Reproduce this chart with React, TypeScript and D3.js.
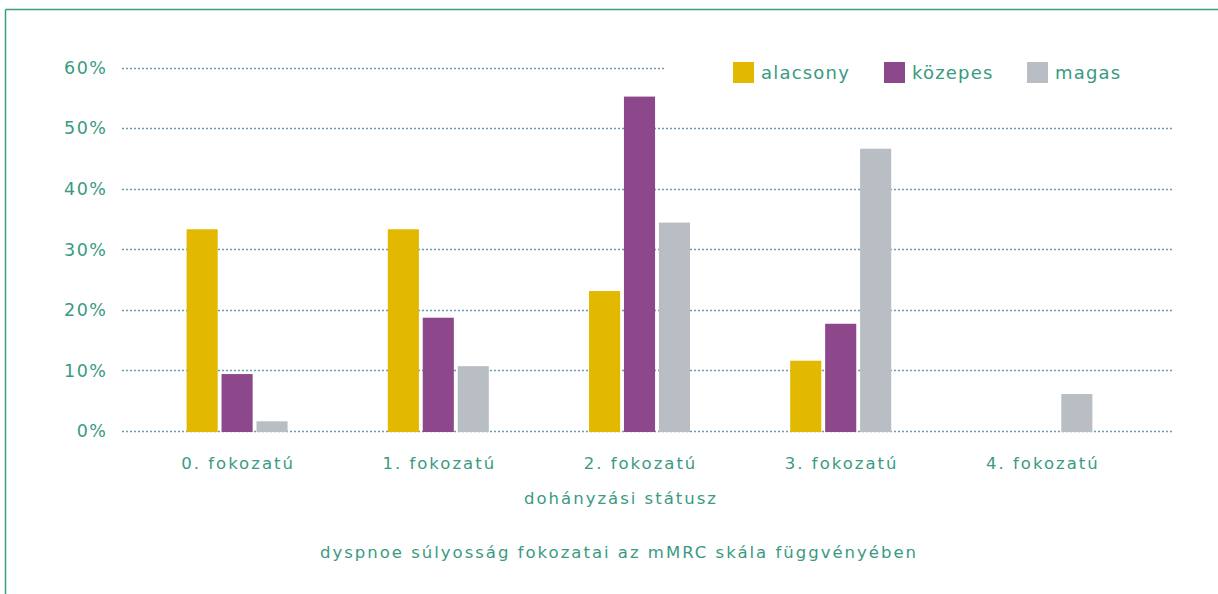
import React from "react";
import * as d3 from "d3";

const categories = ["0. fokozatú", "1. fokozatú", "2. fokozatú", "3. fokozatú", "4. fokozatú"];
const seriesNames = ["alacsony", "közepes", "magas"];
const alacsony = [33.3, 33.3, 23.1, 11.6, 0];
const kozepes = [9.4, 18.7, 55.2, 17.7, 0];
const magas = [1.6, 10.7, 34.4, 46.6, 6.1];
const yTicks = [0, 10, 20, 30, 40, 50, 60];
const colors = ["#e3b800", "#8d488c", "#b9bec5"];
const xAxisTitle = "dohányzási státusz";
const chartTitle = "dyspnoe súlyosság fokozatai az mMRC skála függvényében";

const W = 1218;
const H = 594;
const TEXT = "#3a9a82";
const GRID = "#6a9bb2";
const FONT = "'DejaVu Sans', sans-serif";

export default function App() {
  const series = [alacsony, kozepes, magas];
  const x = d3.scaleBand<string>().domain(categories).range([136.5, 1142.5]).padding(0);
  const y = d3.scaleLinear().domain([0, 60]).range([431, 67.5]);
  const groupW = 101;
  const inner = d3.scaleBand<number>().domain([0, 1, 2]).range([0, groupW]).paddingInner(0.11);
  const groupOffset = (x.bandwidth() - groupW) / 2;

  const legendX = [733, 884, 1027];

  return (
    <svg
      width={W}
      height={H}
      style={{ position: "absolute", left: 0, top: 0, background: "#fff" }}
      fontFamily={FONT}
    >
      <line x1={5.5} y1={9.5} x2={5.5} y2={H} stroke="#3a9a82" strokeWidth={1.5} />
      <line x1={5.5} y1={9.5} x2={W} y2={9.5} stroke="#3a9a82" strokeWidth={1.5} />

      {yTicks.map((t) => (
        <g key={t}>
          <line
            x1={122}
            x2={1172}
            y1={Math.round(y(t)) + 0.5}
            y2={Math.round(y(t)) + 0.5}
            stroke={GRID}
            strokeWidth={1.7}
            strokeDasharray="2 2"
          />
          <text
            x={107.5}
            y={y(t)}
            dy="0.36em"
            textAnchor="end"
            fontSize={17.5}
            letterSpacing={1.5}
            fill={TEXT}
          >
            {t}%
          </text>
        </g>
      ))}

      {categories.map((c, i) => (
        <g key={c} transform={`translate(${(x(c) as number) + groupOffset},0)`}>
          {series.map((s, j) =>
            s[i] > 0 ? (
              <rect
                key={j}
                x={inner(j)}
                y={y(s[i])}
                width={inner.bandwidth()}
                height={y(0) - y(s[i]) + 1}
                fill={colors[j]}
              />
            ) : null
          )}
        </g>
      ))}

      {categories.map((c) => (
        <text
          key={c}
          x={(x(c) as number) + x.bandwidth() / 2 + 1}
          y={469}
          textAnchor="middle"
          fontSize={16.5}
          letterSpacing={2.0}
          fill={TEXT}
        >
          {c}
        </text>
      ))}

      <text x={621} y={504} textAnchor="middle" fontSize={16.5} letterSpacing={2.0} fill={TEXT}>
        {xAxisTitle}
      </text>
      <text x={619} y={558} textAnchor="middle" fontSize={16.5} letterSpacing={2.0} fill={TEXT}>
        {chartTitle}
      </text>

      <rect x={665} y={50} width={510} height={40} fill="#fff" />
      {seriesNames.map((n, j) => (
        <g key={n}>
          <rect x={legendX[j]} y={62} width={21} height={21} fill={colors[j]} />
          <text
            x={legendX[j] + 28}
            y={72.5}
            dy="0.36em"
            fontSize={18}
            letterSpacing={1.2}
            fill={TEXT}
          >
            {n}
          </text>
        </g>
      ))}
    </svg>
  );
}
